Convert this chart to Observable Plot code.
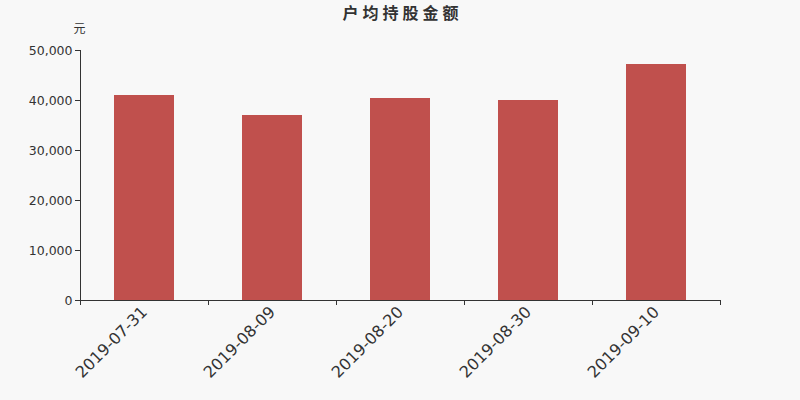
<!DOCTYPE html>
<html>
<head>
<meta charset="utf-8">
<script src="https://cdn.jsdelivr.net/npm/d3@7"></script>
<script src="https://cdn.jsdelivr.net/npm/@observablehq/plot@0.6"></script>
<style>
  html, body { margin: 0; padding: 0; background: #f8f8f8; }
  #chart svg { display: block; }
</style>
</head>
<body>
<div id="chart"></div>
<script>
const dates = ["2019-07-31", "2019-08-09", "2019-08-20", "2019-08-30", "2019-09-10"];
const values = [41000, 37000, 40400, 40000, 47200];
const yTicks = [0, 10000, 20000, 30000, 40000, 50000];
const title = "户均持股金额";
const unit = "元";

const table = dates.map((d, i) => ({date: d, value: values[i]}));
const lastDate = [dates[dates.length - 1]];
const ink = "#333333";
const fmt = d3.format(",");

const chart = Plot.plot({
  width: 800,
  height: 400,
  marginLeft: 80,
  marginRight: 80,
  marginTop: 50,
  marginBottom: 100,
  style: {background: "#f8f8f8", fontFamily: "'DejaVu Sans', 'Noto Sans CJK SC', sans-serif", color: ink},
  x: {type: "band", domain: dates, paddingInner: 0, paddingOuter: 0},
  y: {domain: [0, 50000]},
  marks: [
    Plot.barY(table, {x: "date", y: "value", fill: "#c0504d", insetLeft: 34, insetRight: 34}),
    Plot.ruleY([0], {stroke: ink}),
    Plot.ruleX([dates[0]], {dx: -64, y1: 0, y2: 50000, stroke: ink}),
    Plot.ruleX(dates, {x: d => d, dx: -64, y1: 0, y2: 0, insetBottom: -5, stroke: ink}),
    Plot.ruleX(lastDate, {x: d => d, dx: 64, y1: 0, y2: 0, insetBottom: -5, stroke: ink}),
    Plot.axisY({ticks: yTicks, tickFormat: fmt, tickSize: 5, tickPadding: 3, fontSize: 12.5, stroke: ink, fill: ink, label: null}),
    Plot.axisX({tickSize: 0, tickRotate: -45, tickPadding: 9, fontSize: 16, fill: ink, label: null}),
    Plot.text([title], {frameAnchor: "top", dy: -43, dx: 2, fontSize: 16, fontWeight: "bold", fill: ink, textAnchor: "middle"}),
    Plot.text([unit], {frameAnchor: "top-left", dy: -26, dx: -1, fontSize: 12, fill: ink, textAnchor: "middle"})
  ]
});
d3.select(chart).selectAll("text").filter(function () { return this.textContent === title; })
  .style("letter-spacing", "4px");
document.getElementById("chart").appendChild(chart);
</script>
</body>
</html>
